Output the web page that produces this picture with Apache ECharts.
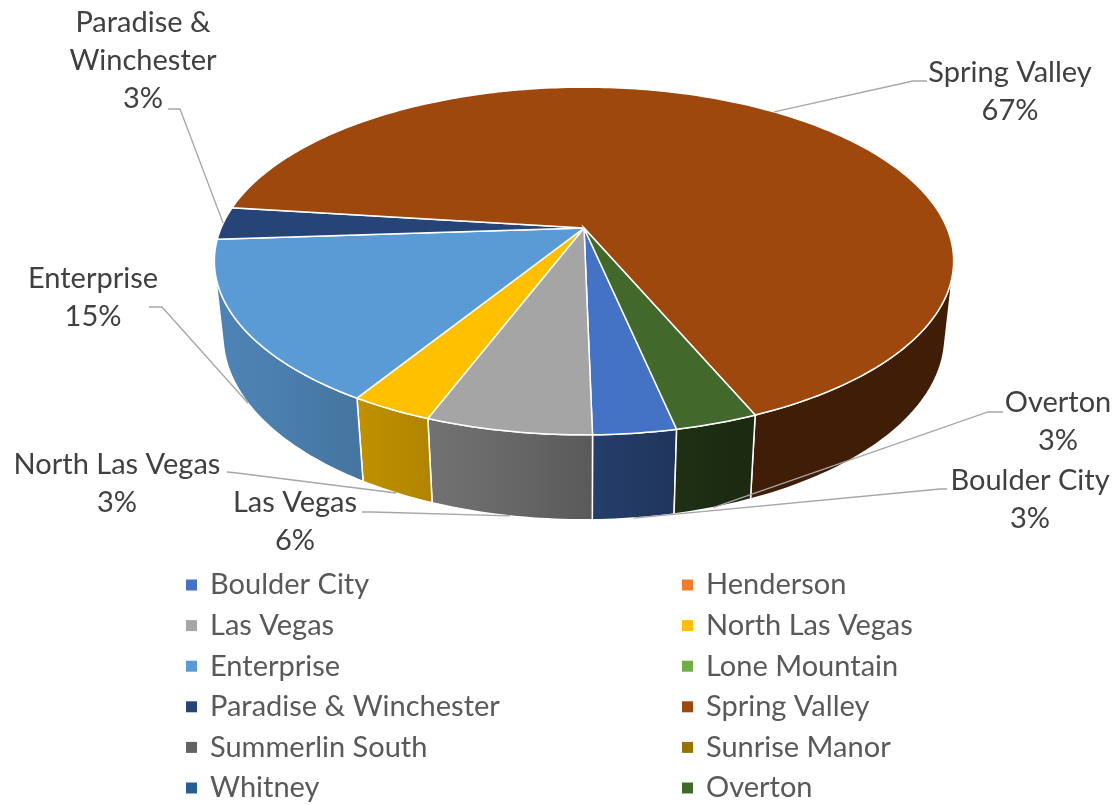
<!DOCTYPE html>
<html>
<head>
<meta charset="UTF-8">
<title>Locations</title>
<script src="https://cdn.jsdelivr.net/npm/echarts@6/dist/echarts.min.js"></script>
<style>
	html, body { margin: 0; padding: 0; background: #fff; }
	#main { width: 1117px; height: 805px; }
</style>
</head>
<body>
<div id="main"></div>
<script>
// data, in legend / slice order
var cities = ['Boulder City', 'Henderson', 'Las Vegas', 'North Las Vegas', 'Enterprise', 'Lone Mountain',
	'Paradise & Winchester', 'Spring Valley', 'Summerlin South', 'Sunrise Manor', 'Whitney', 'Overton'];
var counts = [1, 0, 2, 1, 5, 0, 1, 22, 0, 0, 0, 1];
var colors = ['#4472C4', '#ED7D31', '#A5A5A5', '#FFC000', '#5B9BD5', '#70AD47',
	'#264478', '#9E480E', '#636363', '#997300', '#255E91', '#43682B'];

// 3d look of the pie (perspective view of a flat cylinder)
var pie = { cx: 584, cy: 228, dist: 4.676, scale: 1697, tilt: 27.5, depth: 0.235, start: 78 };

// where the data labels sit and how their leader lines start
var labelSpots = {
	'Boulder City': { at: [1030, 500], line: [[947, 489], [940, 489]] },
	'Las Vegas': { at: [295, 522], line: [[362, 512], [372, 512]] },
	'North Las Vegas': { at: [117, 484], line: [[227, 472], [237, 473]] },
	'Enterprise': { at: [93, 298], line: [[149, 307], [162, 307]] },
	'Paradise & Winchester': { at: [143, 61], line: [[168, 109], [180, 109]], text: 'Paradise &\nWinchester' },
	'Spring Valley': { at: [1010, 92], line: [[927, 81], [913, 81]] },
	'Overton': { at: [1058, 422], line: [[1003, 412], [988, 412]] }
};

var total = counts.reduce(function (a, b) { return a + b; }, 0);
var FONT = 'Lato, "Open Sans", sans-serif';

function rad(d) { return d * Math.PI / 180; }

function project(deg, h) {
	var u = Math.cos(rad(deg)), v = Math.sin(rad(deg));
	var sa = Math.sin(rad(pie.tilt)), ca = Math.cos(rad(pie.tilt));
	var z = pie.dist - v * ca + h * pie.depth * sa;
	return [pie.cx + u * pie.scale / z, pie.cy + (v * sa + h * pie.depth * ca) * pie.scale / z];
}

function rim(a0, a1, h) {
	var pts = [];
	var n = Math.max(2, Math.ceil(Math.abs(a1 - a0)));
	for (var k = 0; k <= n; k++) {
		pts.push(project(a0 + (a1 - a0) * k / n, h));
	}
	return pts;
}

function shade(hex, deg) {
	var f = 0.40 + 0.45 * Math.max(0, Math.cos(rad(deg - 160)));
	var r = parseInt(hex.substr(1, 2), 16), g = parseInt(hex.substr(3, 2), 16), b = parseInt(hex.substr(5, 2), 16);
	return 'rgb(' + Math.round(r * f) + ',' + Math.round(g * f) + ',' + Math.round(b * f) + ')';
}

function sliceAngles(idx) {
	var before = 0;
	for (var i = 0; i < idx; i++) before += counts[i];
	var a0 = pie.start + before / total * 360;
	return [a0, a0 + counts[idx] / total * 360];
}

function renderSlice(idx) {
	return function (params, api) {
		var val = api.value(0);
		if (!val) return;
		var ang = sliceAngles(idx);
		var a0 = ang[0], a1 = ang[1];
		var color = colors[idx];
		var kids = [];

		// top face
		kids.push({
			type: 'polygon',
			shape: { points: [[pie.cx, pie.cy]].concat(rim(a0, a1, 0)) },
			style: { fill: color, stroke: '#fff', lineWidth: 1.5 },
			z2: 10
		});

		// front wall, only where it faces the viewer
		var edge = Math.asin(1 / (pie.dist * Math.cos(rad(pie.tilt)))) * 180 / Math.PI;
		for (var k = -1; k <= 2; k++) {
			var lo = Math.max(a0, edge + 360 * k), hi = Math.min(a1, 180 - edge + 360 * k);
			if (hi <= lo) continue;
			var pts = rim(lo, hi, 0).concat(rim(hi, lo, 1));
			var xmin = Infinity, xmax = -Infinity;
			pts.forEach(function (p) { xmin = Math.min(xmin, p[0]); xmax = Math.max(xmax, p[0]); });
			var stops = [];
			for (var s = 0; s <= 6; s++) {
				var a = lo + (hi - lo) * s / 6;
				var x = project(a, 0)[0];
				stops.push({ offset: Math.min(1, Math.max(0, (x - xmin) / (xmax - xmin))), color: shade(color, a) });
			}
			stops.sort(function (p, q) { return p.offset - q.offset; });
			kids.push({
				type: 'polygon',
				shape: { points: pts },
				style: {
					fill: new echarts.graphic.LinearGradient(xmin, 0, xmax, 0, stops, true),
					stroke: '#fff', lineWidth: 1.5
				},
				z2: 5
			});
		}

		// data label with leader line
		var spot = labelSpots[cities[idx]];
		if (spot) {
			var mid = (a0 + a1) / 2;
			var anchor = Math.sin(rad(mid)) > 0 ? project(mid, 1) : project(mid, 0);
			kids.push({
				type: 'polyline',
				shape: { points: [spot.line[0], spot.line[1], anchor] },
				style: { fill: null, stroke: '#a6a6a6', lineWidth: 1.3 },
				z2: 50
			});
			kids.push({
				type: 'text',
				style: {
					text: (spot.text || cities[idx]) + '\n' + Math.round(val / total * 100) + '%',
					x: spot.at[0], y: spot.at[1],
					align: 'center', verticalAlign: 'middle',
					font: '29px ' + FONT, fill: '#404040', lineHeight: 38
				},
				z2: 60
			});
		}
		return { type: 'group', children: kids };
	};
}

var series = cities.map(function (name, i) {
	return {
		type: 'custom',
		name: name,
		coordinateSystem: 'none',
		itemStyle: { color: colors[i] },
		silent: true,
		data: [counts[i]],
		renderItem: renderSlice(i)
	};
});

function legendCol(col, left) {
	return {
		data: cities.filter(function (c, i) { return i % 2 === col; }),
		orient: 'vertical',
		left: left,
		top: 570,
		height: 260,
		padding: 0,
		icon: 'rect',
		itemWidth: 11,
		itemHeight: 11,
		itemGap: 10.6,
		selectedMode: false,
		textStyle: { fontFamily: FONT, fontSize: 29, color: '#595959', lineHeight: 30, padding: [0, 0, 0, 8] }
	};
}

var myChart = echarts.init(document.getElementById('main'));
myChart.setOption({
	backgroundColor: '#fff',
	animation: false,
	color: colors,
	legend: [legendCol(0, 186), legendCol(1, 682)],
	series: series
});
</script>
</body>
</html>
